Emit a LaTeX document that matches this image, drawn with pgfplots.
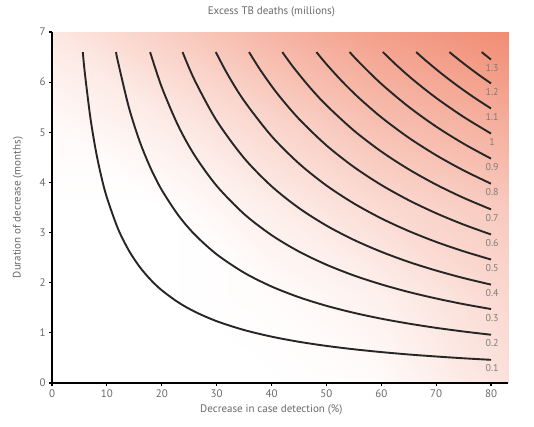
\documentclass[border=0pt]{standalone}
\usepackage{fontspec}
\setmainfont{PT Sans}
\usepackage{pgfplots}
\pgfplotsset{compat=1.18}
\usepgfplotslibrary{patchplots}
\definecolor{txt}{RGB}{105,105,105}
\definecolor{lbl}{RGB}{125,125,125}
\definecolor{cline}{RGB}{38,38,38}
\pgfplotsset{cl/.style={cline, line width=1.9bp, smooth, mark=none}}
\begin{document}
\begin{tikzpicture}[x=1bp,y=1bp]
\path[use as bounding box] (0,0) rectangle (534,426);
\begin{axis}[
  at={(52bp,43bp)}, anchor=south west,
  width=456bp, height=351bp, scale only axis,
  xmin=0, xmax=83.1, ymin=0, ymax=7,
  axis x line=bottom, axis y line=left,
  axis line style={-, line width=1.6bp, black},
  axis on top,
  xtick={0,10,...,80}, ytick={0,1,...,7},
  tick align=outside, major tick length=3bp,
  tick style={line width=1.2bp, black},
  ticklabel style={font=\fontsize{11}{12}\selectfont, text=txt},
  /pgf/number format/assume math mode=true,
  xlabel={Decrease in case detection (\%)},
  ylabel={Duration of decrease (months)},
  xlabel style={at={(axis description cs:0.481,0)}, yshift=-27bp, anchor=center, font=\fontsize{11}{12}\selectfont, text=txt},
  ylabel style={at={(axis description cs:-0.0746,0.5)}, anchor=center, font=\fontsize{11}{12}\selectfont, text=txt},
  title={Excess TB deaths (millions)},
  title style={at={(axis description cs:0.481,1)}, yshift=14bp, anchor=center, font=\fontsize{11}{12}\selectfont, text=txt},
  point meta min=0, point meta max=1,
  colormap={tb}{rgb255(0)=(255,255,255) rgb255(1)=(241,140,115)},
]
% background intensity (0 = white, 1 = strongest salmon)
\addplot[surf, shader=interp, mesh/cols=5, point meta=explicit] coordinates {
(0,0) [0] (20,0) [0] (40,0) [0] (60,0) [0.04] (83.1,0) [0.26]

(0,1.75) [0] (20,1.75) [0] (40,1.75) [0.03] (60,1.75) [0.13] (83.1,1.75) [0.35]

(0,3.5) [0] (20,3.5) [0] (40,3.5) [0.15] (60,3.5) [0.32] (83.1,3.5) [0.47]

(0,5.25) [0.05] (20,5.25) [0.17] (40,5.25) [0.37] (60,5.25) [0.57] (83.1,5.25) [0.72]

(0,7) [0.2] (20,7) [0.42] (40,7) [0.65] (60,7) [0.84] (83.1,7) [1]
};

% 0.1
\addplot[cl] coordinates {(5.61,6.6) (6,6.167) (7,5.286) (8,4.625) (9,4.111) (10,3.7) (12,3.083) (14,2.643) (16,2.3125) (18,2.056) (20,1.85) (23,1.609) (26,1.423) (30,1.233) (35,1.057) (40,0.925) (45,0.822) (50,0.74) (55,0.673) (60,0.617) (65,0.569) (70,0.529) (75,0.493) (80,0.4625)};
% 0.2
\addplot[cl] coordinates {(11.67,6.6) (12,6.417) (14,5.5) (16,4.8125) (18,4.278) (20,3.85) (23,3.348) (26,2.962) (30,2.567) (35,2.2) (40,1.925) (45,1.711) (50,1.54) (55,1.4) (60,1.283) (65,1.185) (70,1.1) (75,1.027) (80,0.9625)};
% 0.3
\addplot[cl] coordinates {(17.88,6.6) (20,5.9) (23,5.130) (26,4.538) (30,3.933) (35,3.371) (40,2.95) (45,2.622) (50,2.36) (55,2.145) (60,1.967) (65,1.815) (70,1.686) (75,1.573) (80,1.475)};
% 0.4
\addplot[cl] coordinates {(23.79,6.6) (26,6.038) (30,5.233) (35,4.486) (40,3.925) (45,3.489) (50,3.14) (55,2.855) (60,2.617) (65,2.415) (70,2.243) (75,2.093) (80,1.9625)};
% 0.5
\addplot[cl] coordinates {(29.85,6.6) (32,6.156) (35,5.629) (40,4.925) (45,4.378) (50,3.94) (55,3.582) (60,3.283) (65,3.031) (70,2.814) (75,2.627) (80,2.4625)};
% 0.6
\addplot[cl] coordinates {(35.91,6.6) (38,6.237) (41,5.780) (45,5.267) (50,4.74) (55,4.309) (60,3.95) (65,3.646) (70,3.386) (75,3.16) (80,2.9625)};
% 0.7
\addplot[cl] coordinates {(41.97,6.6) (44,6.295) (47,5.894) (50,5.54) (55,5.036) (60,4.617) (65,4.262) (70,3.957) (75,3.693) (80,3.4625)};
% 0.8
\addplot[cl] coordinates {(48.18,6.6) (50,6.36) (53,6.0) (56,5.679) (60,5.3) (65,4.892) (70,4.543) (75,4.24) (80,3.975)};
% 0.9
\addplot[cl] coordinates {(54.24,6.6) (56,6.393) (60,5.967) (65,5.508) (70,5.114) (75,4.773) (80,4.475)};
% 1.0
\addplot[cl] coordinates {(60.30,6.6) (63,6.317) (66,6.030) (70,5.686) (75,5.307) (80,4.975)};
% 1.1
\addplot[cl] coordinates {(66.36,6.6) (68,6.441) (71,6.169) (74,5.919) (77,5.688) (80,5.475)};
% 1.2
\addplot[cl] coordinates {(72.42,6.6) (74,6.459) (76,6.289) (78,6.128) (80,5.975)};
% 1.3
\addplot[cl] coordinates {(78.3,6.6) (80,6.45)};

\begin{scope}[every node/.style={font=\fontsize{10}{11}\selectfont, text=lbl, anchor=center, inner sep=0pt}]
\node at (axis cs:80.2,0.29) {0.1};
\node at (axis cs:80.2,0.79) {0.2};
\node at (axis cs:80.2,1.30) {0.3};
\node at (axis cs:80.2,1.79) {0.4};
\node at (axis cs:80.2,2.29) {0.5};
\node at (axis cs:80.2,2.79) {0.6};
\node at (axis cs:80.2,3.29) {0.7};
\node at (axis cs:80.2,3.80) {0.8};
\node at (axis cs:80.2,4.30) {0.9};
\node at (axis cs:80.2,4.80) {1};
\node at (axis cs:80.2,5.30) {1.1};
\node at (axis cs:80.2,5.80) {1.2};
\node at (axis cs:80.2,6.28) {1.3};
\end{scope}
\end{axis}
\end{tikzpicture}
\end{document}
